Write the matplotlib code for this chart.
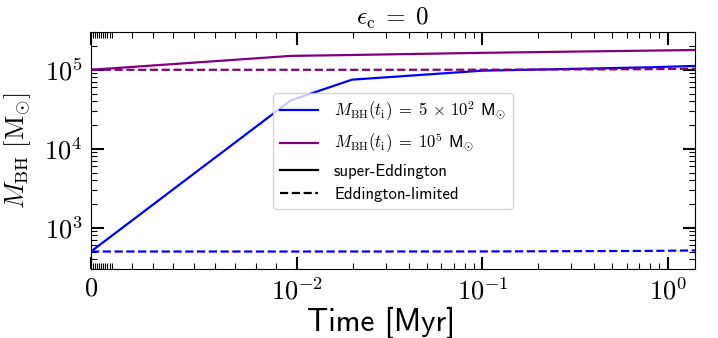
import matplotlib
matplotlib.use('Agg')
import matplotlib.pyplot as plt
from matplotlib.ticker import FixedLocator, FixedFormatter, NullFormatter

plt.rcParams['mathtext.fontset'] = 'cm'
plt.rcParams['font.family'] = ['cmss10', 'DejaVu Sans']

# ---- data ----
time_myr = [0.0, 0.0097, 0.0198, 0.1, 0.8, 1.4]
m_super_500 = [500, 4.1e4, 7.5e4, 9.75e4, 1.075e5, 1.12e5]
m_edd_500 = [500, 500, 500, 501, 509, 516]
m_super_1e5 = [1.0e5, 1.50e5, 1.54e5, 1.64e5, 1.75e5, 1.78e5]
m_edd_1e5 = [1.0e5, 1.0e5, 1.0e5, 1.002e5, 1.018e5, 1.032e5]

x_major = [0, 1e-2, 1e-1, 1e0]
x_labels = ['$0$', '$10^{-2}$', '$10^{-1}$', '$10^{0}$']
y_major = [1e3, 1e4, 1e5]
y_labels = ['$10^{3}$', '$10^{4}$', '$10^{5}$']

label_500 = r'$M_{\rm BH}(t_{\rm i})\;=\;5\,\times\,10^{2}$ $\mathsf{M}_{\odot}$'
label_1e5 = r'$M_{\rm BH}(t_{\rm i})\;=\;10^{5}$ $\mathsf{M}_{\odot}$'

fig = plt.figure(figsize=(7.18, 3.38), dpi=100)
ax = fig.add_axes([0.1267, 0.204, 0.8413, 0.701])

ax.set_xscale('symlog', linthresh=1e-2, linscale=1)
ax.set_yscale('log')

ax.plot(time_myr, m_super_500, color='blue', lw=1.6, ls='-')
ax.plot(time_myr, m_edd_500, color='blue', lw=1.6, ls='--')
ax.plot(time_myr, m_super_1e5, color='purple', lw=1.6, ls='-')
ax.plot(time_myr, m_edd_1e5, color='purple', lw=1.6, ls='--')

ax.set_xlim(0, 1.4)
ax.set_ylim(3e2, 3e5)

x_minor = [k * 10.0**e for e in (-4, -3) for k in range(1, 10)] + \
          [k * 10.0**e for e in (-2, -1, 0) for k in range(2, 10)]
ax.xaxis.set_major_locator(FixedLocator(x_major))
ax.xaxis.set_major_formatter(FixedFormatter(x_labels))
ax.xaxis.set_minor_locator(FixedLocator(x_minor))
ax.xaxis.set_minor_formatter(NullFormatter())

y_minor = [k * 10.0**e for e in (2, 3, 4, 5) for k in range(2, 10)]
ax.yaxis.set_major_locator(FixedLocator(y_major))
ax.yaxis.set_major_formatter(FixedFormatter(y_labels))
ax.yaxis.set_minor_locator(FixedLocator(y_minor))
ax.yaxis.set_minor_formatter(NullFormatter())

ax.tick_params(which='both', direction='in', top=True, right=True)
ax.tick_params(which='major', length=9, width=1.5, labelsize=19, pad=6)
ax.tick_params(which='minor', length=4.5, width=0.8)

ax.set_title(r'$\epsilon_{\rm c}\;=\;0$', fontsize=18, pad=5)
ax.set_xlabel('Time [Myr]', fontsize=22.5)
ax.xaxis.set_label_coords(0.48, -0.16)
ax.set_ylabel(r'$M_{\rm BH}\ [{\rm M}_{\odot}]$', fontsize=19, labelpad=8)

handles = [
    plt.Line2D([], [], color='blue', lw=1.6, ls='-'),
    plt.Line2D([], [], color='purple', lw=1.6, ls='-'),
    plt.Line2D([], [], color='black', lw=1.6, ls='-'),
    plt.Line2D([], [], color='black', lw=1.6, ls='--'),
]
labels = [label_500, label_1e5, 'super-Eddington', 'Eddington-limited']
ax.legend(handles, labels, loc='center', fontsize=12, handlelength=2.3,
          handletextpad=0.95)

fig.savefig('out.png', dpi=100)
